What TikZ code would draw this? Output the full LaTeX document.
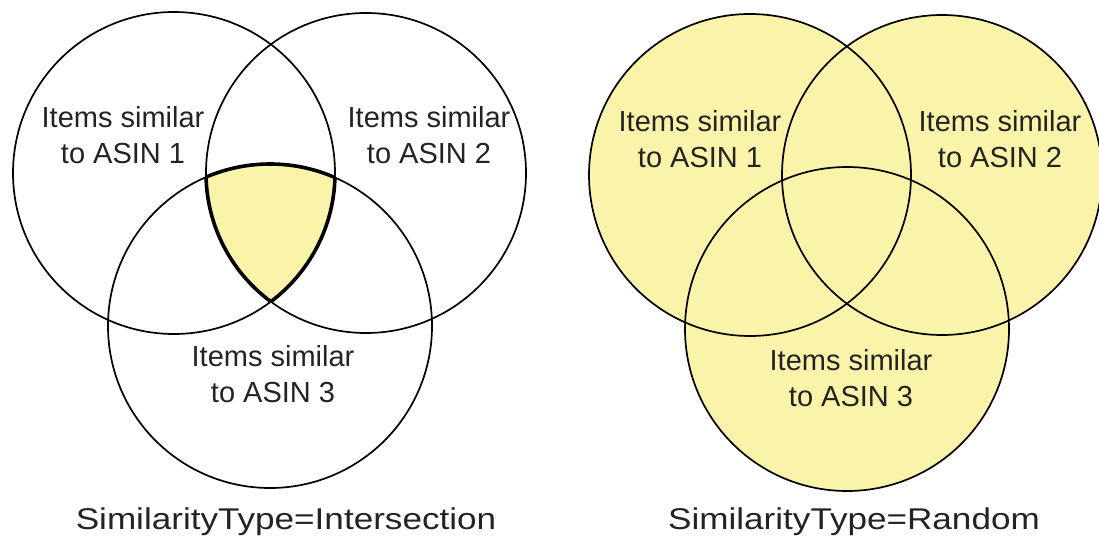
\documentclass[tikz,border=0pt]{standalone}
\usepackage{fontspec}
\setmainfont{Liberation Sans}
\newfontfamily\capfont[FakeStretch=1.17]{Liberation Sans}
\definecolor{venn}{RGB}{250,244,170}
\definecolor{txt}{RGB}{35,35,35}
\begin{document}
\begin{tikzpicture}[x=1pt,y=-1pt,
  ring/.style={draw=black, line width=1.7pt},
  lbl/.style={align=center, text=txt, inner sep=0pt, font=\fontsize{29}{36}\selectfont},
  captext/.style={anchor=base, text=txt, inner sep=0pt, font=\capfont\fontsize{30}{36}\selectfont}]
\useasboundingbox (0,0) rectangle (1099,540);
\clip (0,0) rectangle (1099,540);
% ---------- left: intersection ----------
\coordinate (a1) at (174,173);
\coordinate (a2) at (366,173);
\coordinate (a3) at (270,326);
\begin{scope}
  \clip (a1) circle (161);
  \clip (a2) circle (160);
  \fill[venn] (a3) circle (162);
\end{scope}
\begin{scope}
  \clip (a1) circle (161); \clip (a2) circle (160);
  \draw[line width=3.6pt] (a3) circle (162);
\end{scope}
\begin{scope}
  \clip (a1) circle (161); \clip (a3) circle (162);
  \draw[line width=3.6pt] (a2) circle (160);
\end{scope}
\begin{scope}
  \clip (a2) circle (160); \clip (a3) circle (162);
  \draw[line width=3.6pt] (a1) circle (161);
\end{scope}
\draw[ring] (a1) circle (161);
\draw[ring] (a2) circle (160);
\draw[ring] (a3) circle (162);
\node[lbl] (l1) at (123,135) {Items similar\\to ASIN 1};
\node[lbl] (l2) at (429,135) {Items similar\\to ASIN 2};
\node[lbl] (l3) at (273,374) {Items similar\\to ASIN 3};
\node[captext] (lc) at (286,529) {SimilarityType=Intersection};
% ---------- right: random ----------
\coordinate (b1) at (750,175);
\coordinate (b2) at (942,175);
\coordinate (b3) at (847,329);
\fill[venn] (b1) circle (161);
\fill[venn] (b2) circle (160);
\fill[venn] (b3) circle (162);
\draw[ring] (b1) circle (161);
\draw[ring] (b2) circle (160);
\draw[ring] (b3) circle (162);
\node[lbl] (r1) at (700,139) {Items similar\\to ASIN 1};
\node[lbl] (r2) at (1000,139) {Items similar\\to ASIN 2};
\node[lbl] (r3) at (851,378) {Items similar\\to ASIN 3};
\node[captext] (rc) at (854,529) {SimilarityType=Random};
\end{tikzpicture}
\end{document}
